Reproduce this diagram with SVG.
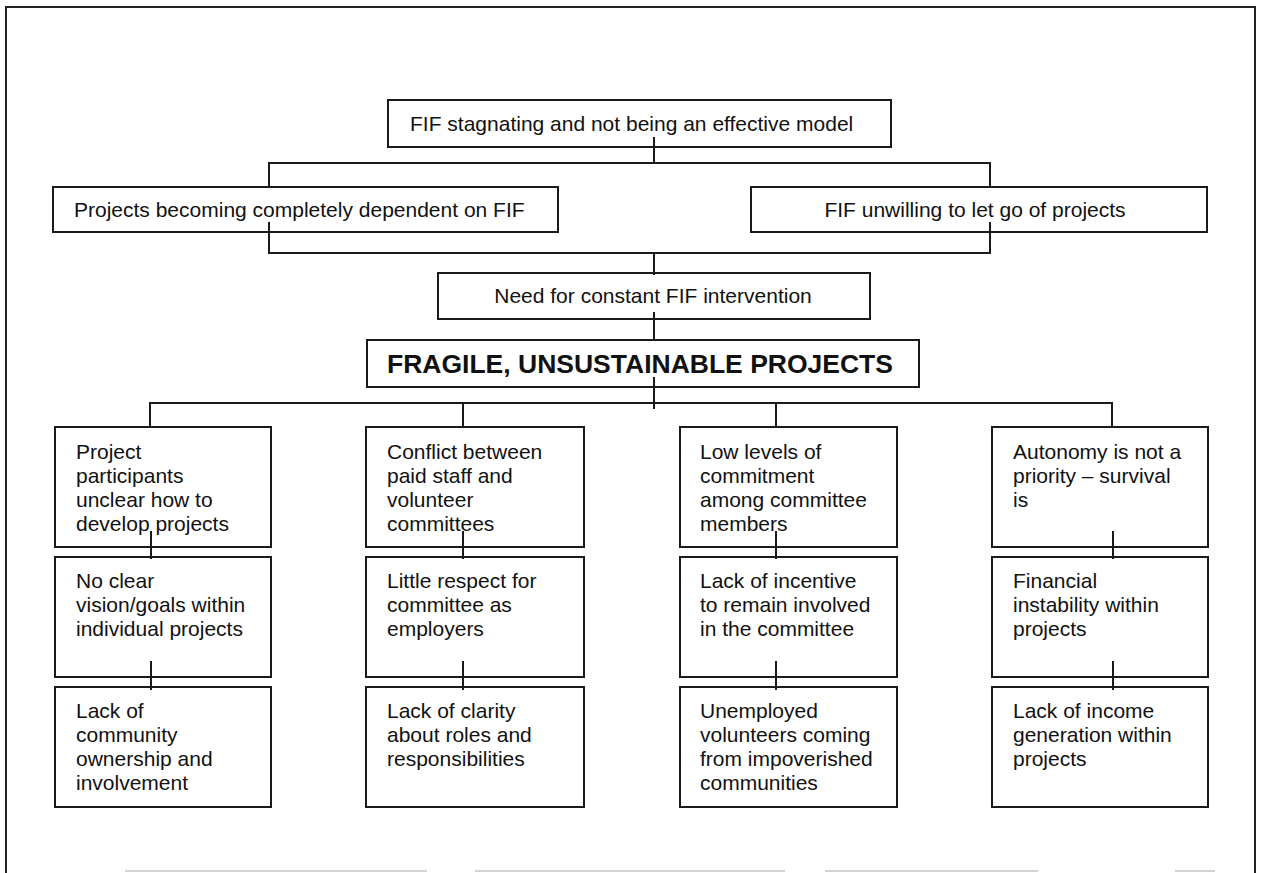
<svg xmlns="http://www.w3.org/2000/svg" width="1262" height="873" viewBox="0 0 1262 873">
  <style>
    .box { fill: #ffffff; stroke: #1a1a1a; stroke-width: 2; }
    .lbl { font-family: "Liberation Sans", Arial, Helvetica, sans-serif; font-size: 21px; fill: #111111; }
    .mid { text-anchor: middle; }
    .title { font-family: "Liberation Sans", Arial, Helvetica, sans-serif; font-size: 26.5px; font-weight: bold; fill: #111111; }
    .wire { fill: none; stroke: #1a1a1a; stroke-width: 2; }
    .frame { fill: none; stroke: #222222; stroke-width: 2; }
    .edge { fill: none; stroke: #c4c4c4; stroke-width: 1.5; }
  </style>

  <rect width="1262" height="873" fill="#ffffff"/>

  <!-- outer frame, open at the bottom -->
  <g id="frame">
    <path class="frame" d="M6,873 V7 H1255 V873"/>
    <path class="edge" d="M125,871 H427 M475,871 H785 M825,871 H1038 M1175,871 H1215"/>
  </g>

  <g id="n-stagnating">
    <rect class="box" x="388" y="100" width="503" height="47"/>
    <text class="lbl" x="410" y="131">FIF stagnating and not being an effective model</text>
  </g>

  <g id="n-dependent">
    <rect class="box" x="53" y="187" width="505" height="45"/>
    <text class="lbl" x="74" y="217">Projects becoming completely dependent on FIF</text>
  </g>

  <g id="n-unwilling">
    <rect class="box" x="751" y="187" width="456" height="45"/>
    <text class="lbl mid" x="975" y="217">FIF unwilling to let go of projects</text>
  </g>

  <g id="n-intervention">
    <rect class="box" x="438" y="273" width="432" height="46"/>
    <text class="lbl mid" x="653" y="303">Need for constant FIF intervention</text>
  </g>

  <g id="n-fragile">
    <rect class="box" x="367" y="340" width="552" height="47"/>
    <text class="title" x="387" y="373">FRAGILE, UNSUSTAINABLE PROJECTS</text>
  </g>

  <!-- column 1 -->
  <g id="n-unclear">
    <rect class="box" x="55" y="427" width="216" height="120"/>
    <text class="lbl" x="76" y="459"><tspan x="76">Project</tspan><tspan x="76" dy="24">participants</tspan><tspan x="76" dy="24">unclear how to</tspan><tspan x="76" dy="24">develop projects</tspan></text>
  </g>
  <g id="n-vision">
    <rect class="box" x="55" y="557" width="216" height="120"/>
    <text class="lbl" x="76" y="588"><tspan x="76">No clear</tspan><tspan x="76" dy="24">vision/goals within</tspan><tspan x="76" dy="24">individual projects</tspan></text>
  </g>
  <g id="n-ownership">
    <rect class="box" x="55" y="687" width="216" height="120"/>
    <text class="lbl" x="76" y="718"><tspan x="76">Lack of</tspan><tspan x="76" dy="24">community</tspan><tspan x="76" dy="24">ownership and</tspan><tspan x="76" dy="24">involvement</tspan></text>
  </g>

  <!-- column 2 -->
  <g id="n-conflict">
    <rect class="box" x="366" y="427" width="218" height="120"/>
    <text class="lbl" x="387" y="459"><tspan x="387">Conflict between</tspan><tspan x="387" dy="24">paid staff and</tspan><tspan x="387" dy="24">volunteer</tspan><tspan x="387" dy="24">committees</tspan></text>
  </g>
  <g id="n-respect">
    <rect class="box" x="366" y="557" width="218" height="120"/>
    <text class="lbl" x="387" y="588"><tspan x="387">Little respect for</tspan><tspan x="387" dy="24">committee as</tspan><tspan x="387" dy="24">employers</tspan></text>
  </g>
  <g id="n-clarity">
    <rect class="box" x="366" y="687" width="218" height="120"/>
    <text class="lbl" x="387" y="718"><tspan x="387">Lack of clarity</tspan><tspan x="387" dy="24">about roles and</tspan><tspan x="387" dy="24">responsibilities</tspan></text>
  </g>

  <!-- column 3 -->
  <g id="n-commitment">
    <rect class="box" x="680" y="427" width="217" height="120"/>
    <text class="lbl" x="700" y="459"><tspan x="700">Low levels of</tspan><tspan x="700" dy="24">commitment</tspan><tspan x="700" dy="24">among committee</tspan><tspan x="700" dy="24">members</tspan></text>
  </g>
  <g id="n-incentive">
    <rect class="box" x="680" y="557" width="217" height="120"/>
    <text class="lbl" x="700" y="588"><tspan x="700">Lack of incentive</tspan><tspan x="700" dy="24">to remain involved</tspan><tspan x="700" dy="24">in the committee</tspan></text>
  </g>
  <g id="n-unemployed">
    <rect class="box" x="680" y="687" width="217" height="120"/>
    <text class="lbl" x="700" y="718"><tspan x="700">Unemployed</tspan><tspan x="700" dy="24">volunteers coming</tspan><tspan x="700" dy="24">from impoverished</tspan><tspan x="700" dy="24">communities</tspan></text>
  </g>

  <!-- column 4 -->
  <g id="n-autonomy">
    <rect class="box" x="992" y="427" width="216" height="120"/>
    <text class="lbl" x="1013" y="459"><tspan x="1013">Autonomy is not a</tspan><tspan x="1013" dy="24">priority – survival</tspan><tspan x="1013" dy="24">is</tspan></text>
  </g>
  <g id="n-financial">
    <rect class="box" x="992" y="557" width="216" height="120"/>
    <text class="lbl" x="1013" y="588"><tspan x="1013">Financial</tspan><tspan x="1013" dy="24">instability within</tspan><tspan x="1013" dy="24">projects</tspan></text>
  </g>
  <g id="n-income">
    <rect class="box" x="992" y="687" width="216" height="120"/>
    <text class="lbl" x="1013" y="718"><tspan x="1013">Lack of income</tspan><tspan x="1013" dy="24">generation within</tspan><tspan x="1013" dy="24">projects</tspan></text>
  </g>

  <!-- connectors, drawn over the boxes so each tick starts inside its source box -->
  <g id="connectors">
    <!-- top cause split -->
    <path class="wire" d="M654,137 V163 M269,187 V163 H990 V187"/>
    <!-- merge into intervention -->
    <path class="wire" d="M269,222 V253 H990 V222 M654,253 V275"/>
    <!-- intervention to core problem -->
    <path class="wire" d="M654,312 V341"/>
    <!-- core problem fan-out -->
    <path class="wire" d="M654,377 V409 M150,427 V403 H1112 V427 M463,403 V427 M776,403 V427"/>
    <!-- column chains -->
    <path class="wire" d="M151,531 V559 M151,661 V690"/>
    <path class="wire" d="M463,531 V559 M463,661 V690"/>
    <path class="wire" d="M776,531 V559 M776,661 V690"/>
    <path class="wire" d="M1113,531 V559 M1113,661 V690"/>
  </g>
</svg>
